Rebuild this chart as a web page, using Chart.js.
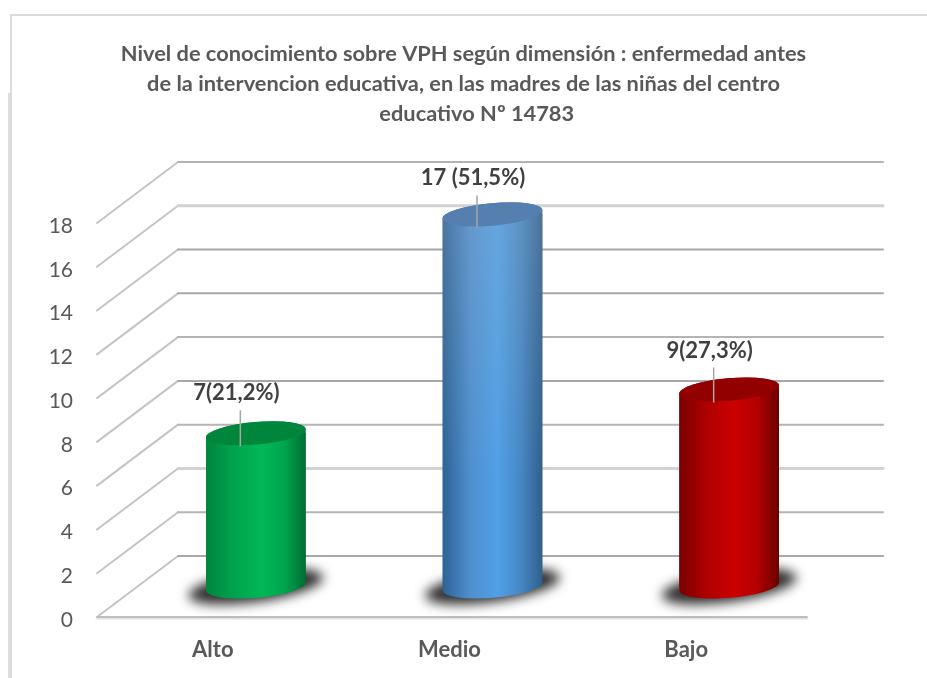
<!DOCTYPE html>
<html><head><meta charset="utf-8">
<script src="https://cdn.jsdelivr.net/npm/chart.js@4"></script>
<style>html,body{margin:0;background:#fff}
canvas{display:block}</style></head>
<body><canvas id="c" width="927" height="678"></canvas>
<script>
const categories = ['Alto', 'Medio', 'Bajo'];
const values = [7, 17, 9];
const valueLabels = ['7(21,2%)', '17 (51,5%)', '9(27,3%)'];
const titleLines = [
  'Nivel de conocimiento sobre VPH según dimensión : enfermedad antes',
  'de la intervencion educativa, en las madres de las niñas del centro',
  '     educativo Nº 14783'
];
const barStops = [
  ['#00853f', '#00a34d', '#00b857', '#00a64e', '#006d33'],
  ['#2c6396', '#4f8fd0', '#50a0e6', '#4688c6', '#2f5f8c'],
  ['#7a0000', '#b00000', '#cc0000', '#b30000', '#6a0000']
];
const capColors = ['#00863c', '#557fae', '#930000'];
const sheen = [0, 0.2, 0];
const labelLift = [40, 36, 39];
const lineStyles = ['t','m','l','m','t','m','t','t','l','m'];

const DX = 81, DY = -61, RIGHT = 883, HALF = 50, TILT = -5 * Math.PI / 180, MINOR = 11.3;

function silhouette(t, el) {
  t.ellipse(el.x, el.y, HALF, MINOR, TILT, Math.PI, 2 * Math.PI);
  t.ellipse(el.x, el.base, HALF, MINOR, TILT, 0, Math.PI);
  t.closePath();
}
function grad(ctx, cx, stops) {
  const g = ctx.createLinearGradient(cx - HALF, 0, cx + HALF, 0);
  [0, .28, .55, .78, 1].forEach((p, i) => g.addColorStop(p, stops[i]));
  return g;
}
const stage = {
  id: 'stage',
  beforeDraw(chart) {
    const { ctx } = chart;
    ctx.save();
    ctx.fillStyle = '#dcdcdc';
    ctx.fillRect(10, 14, 917, 2);
    ctx.fillRect(10, 14, 2, 80);
    ctx.fillRect(8, 93, 4, 585);
    ctx.restore();
  },
  beforeDatasetsDraw(chart) {
    const { ctx, scales: { x, y } } = chart;
    const L = x.left, R = x.right;
    ctx.save();
    ctx.lineCap = 'round';
    y.ticks.forEach((t, i) => {
      const py = y.getPixelForValue(t.value);
      const st = lineStyles[i];
      const backW = st === 'l' ? 3 : 2;
      const backC = st === 'l' ? '#d2d2d2' : (st === 't' ? '#a8a8a8' : '#b4b4b4');
      ctx.strokeStyle = '#c4c4c4'; ctx.lineWidth = 2;
      ctx.beginPath(); ctx.moveTo(L, py); ctx.lineTo(L + DX, py + DY); ctx.stroke();
      ctx.strokeStyle = backC; ctx.lineWidth = backW;
      ctx.beginPath(); ctx.moveTo(L + DX, py + DY); ctx.lineTo(RIGHT, py + DY); ctx.stroke();
    });
    const py0 = y.getPixelForValue(0);
    ctx.strokeStyle = '#e4e4e4'; ctx.lineWidth = 3;
    ctx.beginPath(); ctx.moveTo(L, py0 + 1); ctx.lineTo(R, py0 + 1); ctx.stroke();
    ctx.strokeStyle = '#b0b0b0'; ctx.lineWidth = 1.5;
    ctx.beginPath(); ctx.moveTo(L, py0); ctx.lineTo(R, py0); ctx.stroke();
    ctx.restore();
    chart.getDatasetMeta(0).data.forEach(el => {
      const cx = el.x + DX / 2, cy = el.base + DY / 2;
      ctx.save();
      ctx.filter = 'blur(6px)';
      ctx.fillStyle = '#2e2e2e';
      ctx.beginPath();
      ctx.ellipse(cx, cy, HALF + 18, MINOR + 4, -8 * Math.PI / 180, 0, 2 * Math.PI);
      ctx.fill();
      ctx.restore();
    });
  },
  beforeDatasetDraw(chart, args) {
    const { ctx } = chart;
    ctx.save();
    ctx.translate(DX / 2, DY / 2);
    const p = new Path2D();
    args.meta.data.forEach(el => {
      const q = new Path2D();
      silhouette(q, el);
      p.addPath(q);
    });
    ctx.clip(p);
  },
  afterDatasetDraw(chart, args) {
    const { ctx } = chart;
    ctx.restore();
    ctx.save();
    ctx.translate(DX / 2, DY / 2);
    args.meta.data.forEach((el, i) => {
      ctx.beginPath();
      silhouette(ctx, el);
      ctx.fillStyle = grad(ctx, el.x, barStops[i]);
      ctx.fill();
      if (sheen[i]) {
        const v = ctx.createLinearGradient(0, el.y, 0, el.base);
        v.addColorStop(0, `rgba(190,190,190,${sheen[i]})`);
        v.addColorStop(0.7, 'rgba(190,190,190,0)');
        ctx.fillStyle = v;
        ctx.fill();
      }
      ctx.beginPath();
      ctx.ellipse(el.x, el.y, HALF, MINOR, TILT, 0, 2 * Math.PI);
      ctx.fillStyle = capColors[i];
      ctx.fill();
    });
    ctx.restore();
  },
  afterDatasetsDraw(chart) {
    const { ctx } = chart;
    ctx.save();
    chart.getDatasetMeta(0).data.forEach((el, i) => {
      const cx = el.x + DX / 2, top = el.y + DY / 2, lift = labelLift[i];
      ctx.strokeStyle = '#a6a6a6'; ctx.lineWidth = 1.5;
      ctx.beginPath(); ctx.moveTo(cx - 15.5, top - lift + 17); ctx.lineTo(cx - 15.5, top + 13); ctx.stroke();
      ctx.fillStyle = '#404040';
      ctx.font = 'bold 22px Lato';
      ctx.textAlign = 'center'; ctx.textBaseline = 'middle';
      ctx.fillText(valueLabels[i], cx - 19.5, top - lift);
    });
    ctx.restore();
  }
};
new Chart(document.getElementById('c'), {
  type: 'bar',
  data: { labels: categories, datasets: [{
    data: values, barThickness: HALF * 2, clip: false, yAxisID: 'y',
    backgroundColor: c => {
      const s = c.chart.scales.x;
      const cx = s ? s.getPixelForValue(c.dataIndex) : NaN;
      if (!Number.isFinite(cx)) return capColors[c.dataIndex] || '#888';
      return grad(c.chart.ctx, cx, barStops[c.dataIndex]);
    }
  }]},
  plugins: [stage],
  options: {
    responsive: false, animation: false,
    plugins: {
      legend: { display: false }, tooltip: { enabled: false },
      title: { display: true, text: titleLines, color: '#595959',
        font: { family: 'Lato', size: 21.8, weight: 'bold', lineHeight: 30 / 21.8 },
        padding: { top: 39, bottom: 94 } }
    },
    scales: {
      x: { grid: { display: false }, border: { display: false },
        afterFit(s) { s.height = 61; },
        ticks: { color: '#595959', padding: 12, maxRotation: 0, labelOffset: -2.5,
          font: { family: 'Lato', size: 22, weight: 'bold' } } },
      y: { min: 0, max: 18, grid: { display: false }, border: { display: false },
        afterFit(s) { s.width = 97; },
        ticks: { stepSize: 2, color: '#595959', padding: 16, labelOffset: 3,
          font: { family: 'Lato', size: 21 } } },
      spacer: { position: 'right', grid: { display: false }, border: { display: false },
        afterFit(s) { s.width = 120; },
        ticks: { display: false } }
    }
  }
});
</script></body></html>
